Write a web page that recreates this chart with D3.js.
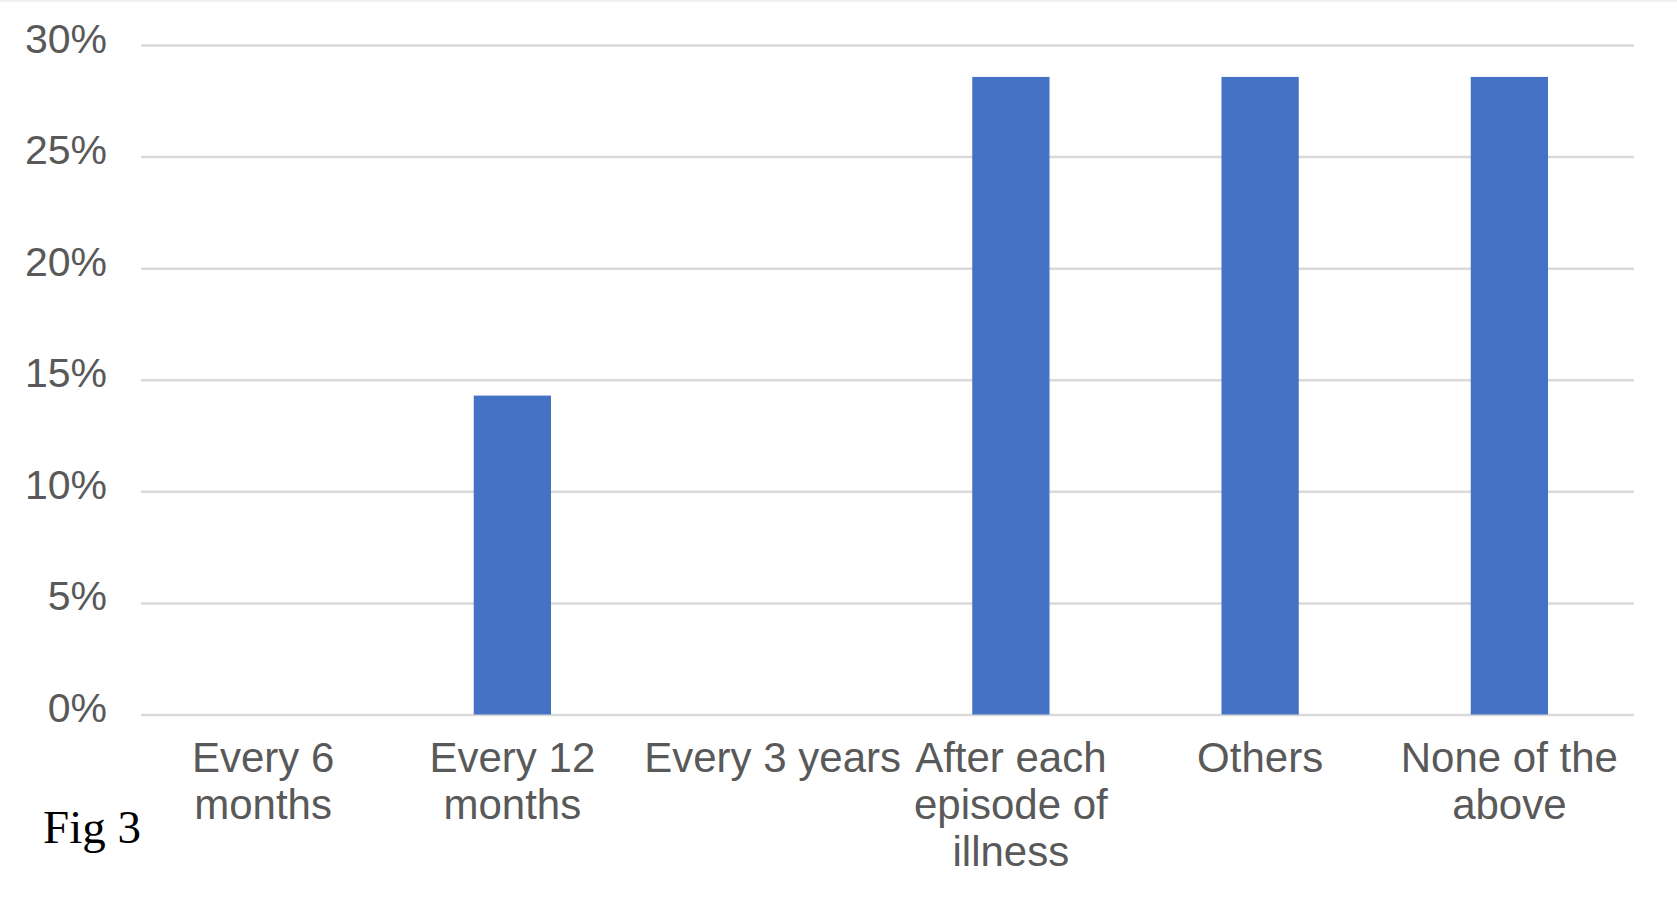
<!DOCTYPE html>
<html>
<head>
<meta charset="utf-8">
<script src="https://cdn.jsdelivr.net/npm/d3@7"></script>
<style>
  html, body { margin: 0; padding: 0; background: #ffffff; }
  svg { display: block; }
</style>
</head>
<body>
<svg id="chart" width="1677" height="899"></svg>
<script>
// ---- data ----
const categories = [
  "Every 6\nmonths",
  "Every 12\nmonths",
  "Every 3 years",
  "After each\nepisode of\nillness",
  "Others",
  "None of the\nabove"
];
const values = [0, 14.29, 0, 28.57, 28.57, 28.57];
const yTicks = [0, 5, 10, 15, 20, 25, 30];
const figLabel = "Fig 3";

// ---- layout ----
const W = 1677, H = 899;
const plot = { left: 141, right: 1634, top: 45, bottom: 714.5 };
const svg = d3.select("#chart");

svg.append("rect").attr("x", 0).attr("y", 0).attr("width", W).attr("height", 2).attr("fill", "#f0f0f0");

const x = d3.scaleBand()
  .domain(d3.range(categories.length))
  .range([138.5, 1634])
  .paddingInner(0.69)
  .paddingOuter(0.345);

const y = d3.scaleLinear().domain([0, 30]).range([plot.bottom, plot.top]);

// gridlines
const yAxis = d3.axisLeft(y).tickValues(yTicks)
  .tickSize(-(plot.right - plot.left))
  .tickFormat(d => d + "%")
  .tickPadding(34);

const gy = svg.append("g").attr("transform", `translate(${plot.left},0)`).call(yAxis);
gy.select(".domain").remove();
gy.selectAll(".tick line").attr("stroke", "#d9d9d9").attr("stroke-width", 2.5);
gy.selectAll(".tick text")
  .attr("fill", "#595959")
  .attr("font-family", "'Liberation Sans', Arial, Helvetica, sans-serif")
  .attr("font-size", 41)
  .attr("dy", 7)
  .attr("x", 107 - plot.left);

// bars
svg.append("g").selectAll("rect.bar")
  .data(values)
  .join("rect")
  .attr("class", "bar")
  .attr("x", (d, i) => x(i))
  .attr("width", x.bandwidth())
  .attr("y", d => y(d))
  .attr("height", d => y(0) - y(d))
  .attr("fill", "#4472C4");

// category labels (single-line label that crowds its neighbours sits a bit right, as in the original)
const xl = svg.append("g");
categories.forEach((c, i) => {
  const lines = c.split("\n");
  const shift = (lines.length === 1 && c.length > 10) ? 11 : 0;
  const t = xl.append("text")
    .attr("text-anchor", "middle")
    .attr("fill", "#595959")
    .attr("font-family", "'Liberation Sans', Arial, Helvetica, sans-serif")
    .attr("font-size", 42);
  lines.forEach((ln, k) => {
    t.append("tspan")
      .attr("x", x(i) + x.bandwidth() / 2 + shift)
      .attr("y", 772 + k * 47)
      .text(ln);
  });
});

// figure label
svg.append("text")
  .attr("x", 43)
  .attr("y", 843)
  .attr("fill", "#000000")
  .attr("font-family", "'Liberation Serif', 'Times New Roman', Times, serif")
  .attr("font-size", 47)
  .text(figLabel);
</script>
</body>
</html>
